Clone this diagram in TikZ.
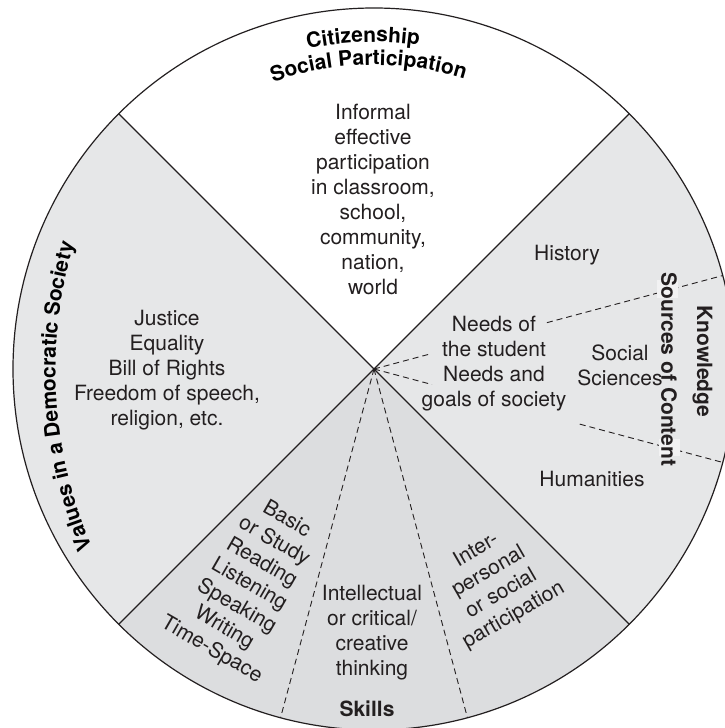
\documentclass[tikz,border=0pt]{standalone}
\usepackage{fontspec}
\setmainfont{TeX Gyre Heros}
\usetikzlibrary{decorations.text}
\definecolor{ink}{HTML}{231F20}
\definecolor{pane}{HTML}{E6E7E8}
\definecolor{skill}{HTML}{DCDDDF}
\definecolor{patch}{HTML}{F2F2F3}
\tikzset{
  every node/.style = {text=ink},
  scbody/.style  = {align=center, inner sep=0pt, font=\fontsize{21}{25}\selectfont},
  schead/.style  = {scbody, font=\fontsize{21}{25}\selectfont\bfseries},
  scrim/.style   = {draw=ink, line width=1.2pt},
  scspoke/.style = {draw=ink, line width=1.1pt},
  scdash/.style  = {draw=ink, line width=0.9pt, dash pattern=on 6pt off 4pt},
  scarc/.style   = {decorate, decoration={text along path,
                    text={|\fontsize{21}{25}\selectfont\bfseries|#1}}},
}

\begin{document}
\begin{tikzpicture}[x=1pt, y=1pt]
\useasboundingbox (-374,-359) rectangle (351,369);
\clip (-374,-359) rectangle (351,369);

% four quarters of the wheel
\fill[white] (0,0) -- (45:361pt) arc[start angle=45, end angle=135, radius=361pt] -- cycle;
\fill[pane]  (0,0) -- (135:361pt) arc[start angle=135, end angle=225, radius=361pt] -- cycle;
\fill[skill] (0,0) -- (225:361pt) arc[start angle=225, end angle=315, radius=361pt] -- cycle;
\fill[pane]  (0,0) -- (-45:361pt) arc[start angle=-45, end angle=45, radius=361pt] -- cycle;

% dashed splits inside knowledge and skills
\draw[scdash] (0,0) -- (15:58pt);
\draw[scdash] (15:179pt) -- (15:361pt);
\draw[scdash] (0,0) -- (-15:60pt);
\draw[scdash] (-15:213pt) -- (-15:361pt);
\draw[scdash] (0,0) -- (255:361pt);
\draw[scdash] (0,0) -- (285:361pt);
\fill[patch] (283,71) rectangle (304,89);
\fill[patch] (285,-87) rectangle (306,-70);

\foreach \a in {45,135,225,315}
  \draw[scspoke] (0,0) -- (\a:361pt);
\draw[scrim] (0,0) circle[radius=361pt];

% headings: curved along the rim, straight on the right
\path[scarc=Citizenship] (101.7:327pt) arc[start angle=101.7, end angle=60, radius=327pt];
\path[scarc={Social Participation}] (109.4:304pt) arc[start angle=109.4, end angle=60, radius=304pt];
\begin{scope}[shift={(126,-2)}]
  \path[scarc={Values in a Democratic Society}] (203.4:444.5pt) arc[start angle=203.4, end angle=150, radius=444.5pt];
\end{scope}
\node[schead, rotate=-90] (knowledge) at (328.5,7.5) {Knowledge};
\node[schead, rotate=-90] (sources) at (295,-0.5) {Sources of Content};

% citizenship
\node[scbody] (informal) at (-1,170)
  {Informal\\effective\\participation\\in classroom,\\school,\\community,\\nation,\\world};

% values
\node[scbody] (justice) at (-207,-1)
  {Justice\\Equality\\Bill of Rights\\Freedom of speech,\\religion, etc.};

% knowledge
\node[scbody] (history) at (193,114) {History};
\node[scbody] (needs) at (120,5)
  {Needs of\\the student\\Needs and\\goals of society};
\node[scbody] (social) at (246,4) {Social\\Sciences};
\node[scbody] (humanities) at (218,-110) {Humanities};

% skills
\node[scbody, rotate=-30] (basic) at (-125,-216)
  {Basic\\or Study\\Reading\\Listening\\Speaking\\Writing\\Time-Space};
\node[scbody] (intellectual) at (-2,-264)
  {Intellectual\\or critical/\\creative\\thinking};
\node[scbody, rotate=30] (inter) at (121,-214)
  {Inter-\\personal\\or social\\participation};
\node[schead] (skills) at (-7,-340) {Skills};
\end{tikzpicture}
\end{document}
